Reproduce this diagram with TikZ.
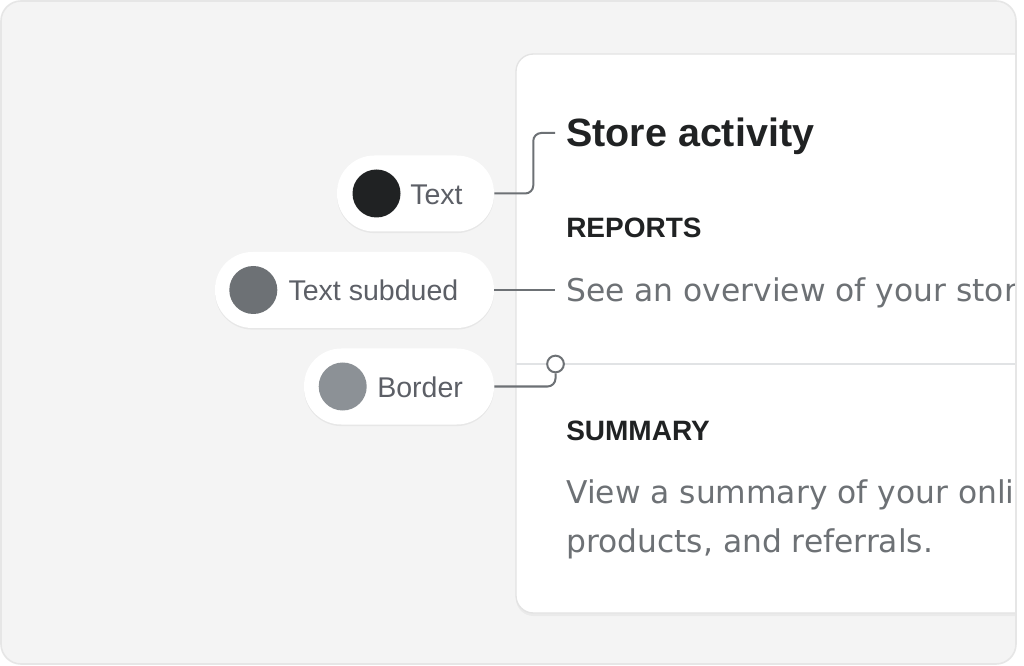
\documentclass[tikz,border=0pt]{standalone}
\usepackage{fontspec}
\setmainfont{Liberation Sans}
\newfontfamily\bodyfont{DejaVu Sans}
\usetikzlibrary{shadows}
\definecolor{framebg}{HTML}{F4F4F4}
\definecolor{frameln}{HTML}{E6E6E6}
\definecolor{cardln}{HTML}{E3E3E3}
\definecolor{divln}{HTML}{E1E3E5}
\definecolor{connc}{HTML}{6D7175}
\definecolor{labelc}{HTML}{5C5F66}
\definecolor{inkc}{HTML}{202223}
\definecolor{subc}{HTML}{6D7175}
\definecolor{borderc}{HTML}{8C9196}
\definecolor{bodyc}{HTML}{6D7175}
\begin{document}
\begin{tikzpicture}[x=0.75pt,y=-0.75pt,
  pill/.style={fill=white, rounded corners=28pt, minimum height=57pt, inner sep=0,
    drop shadow={shadow xshift=0pt, shadow yshift=-1.2pt, fill=black, opacity=0.05}},
  swatch/.style={circle, minimum size=36pt, inner sep=0},
  lbl/.style={anchor=base west, inner sep=0, text=labelc, font=\fontsize{21.4}{24}\selectfont},
  conn/.style={draw=connc, line width=1.5pt, rounded corners=6pt},
  ttl/.style={anchor=base west, inner sep=0, text=inkc, font=\fontsize{29.6}{32}\selectfont\bfseries},
  hdg/.style={anchor=base west, inner sep=0, text=inkc, font=\fontsize{21}{24}\selectfont\bfseries},
  bodytxt/.style={anchor=base west, inner sep=0, text=bodyc, font=\bodyfont\fontsize{23.5}{27}\selectfont}
]
\useasboundingbox (0,0) rectangle (1024,666);
\fill[white] (0,0) rectangle (1024,666);
% frame background
\fill[framebg, rounded corners=15pt] (1,1) rectangle (1016,664);
% card inside clip
\begin{scope}
  \clip[rounded corners=15pt] (1,1) rectangle (1016,664);
  \fill[black, opacity=0.04, rounded corners=13pt] (516,56) rectangle (1100,616);
  \filldraw[fill=white, draw=cardln, line width=1pt, rounded corners=13pt] (516,54) rectangle (1100,613);
  \draw[divln, line width=1.5pt] (516,364) -- (1100,364);
  \node[ttl] (title) at (566,147) {Store activity};
  \node[hdg] (rep) at (566,237.5) {REPORTS};
  \node[bodytxt] (repbody) at (566,302) {See an overview of your stor};
  \node[hdg] (sum) at (566,440.5) {SUMMARY};
  \node[bodytxt] (sumbody1) at (566,503.5) {View a summary of your onli};
  \node[bodytxt] (sumbody2) at (566,552) {products, and referrals.};
\end{scope}
\draw[frameln, line width=1.2pt, rounded corners=15pt] (1,1) rectangle (1016,664);
% pills
\node[pill, minimum width=117.75pt] (tp) at (415.5,193.5) {};
\node[pill, minimum width=209.25pt] (sp) at (354.5,290) {};
\node[pill, minimum width=142.5pt] (bp) at (399,386.5) {};
\node[swatch, fill=inkc] (tdot) at (376.5,193.5) {};
\node[swatch, fill=subc] (sdot) at (253.3,290) {};
\node[swatch, fill=borderc] (bdotc) at (342.7,386.5) {};
\node[lbl] (tlab) at (410,204.3) {Text};
\node[lbl] (slab) at (288.3,300.8) {Text subdued};
\node[lbl] (blab) at (377,397.3) {Border};
% connectors
\coordinate (tend) at (555,133);
\coordinate (send) at (555,290);
\node[circle, draw=connc, fill=white, line width=1.5pt, minimum size=12.5pt, inner sep=0] (bdot) at (555.5,364) {};
\draw[conn] (tp.east) -- ++(39,0) |- (tend);
\draw[conn] (sp.east) -- (send);
\draw[conn] (bp.east) -- (bdot.south |- bp.east) -- (bdot.south);
\end{tikzpicture}
\end{document}
